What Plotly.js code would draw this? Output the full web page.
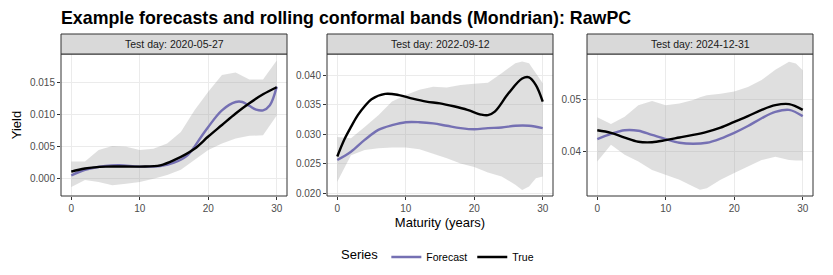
<!DOCTYPE html>
<html><head><meta charset="utf-8">
<script src="https://cdn.plot.ly/plotly-3.0.1.min.js"></script>
<style>html,body{margin:0;padding:0;background:#fff}#chart{width:833px;height:275px}</style>
</head><body><div id="chart"></div>
<script>
// Panel titles
const panelTitles = ["Test day: 2020-05-27", "Test day: 2022-09-12", "Test day: 2024-12-31"];

// Panel 1: 2020-05-27
const p1TrueX = [0, 2, 5, 10, 13, 15, 18, 20, 22, 24, 26, 28, 30];
const p1TrueY = [0.0011, 0.0016, 0.0019, 0.0019, 0.0021, 0.0029, 0.0047, 0.0066, 0.0084, 0.0102, 0.0118, 0.0132, 0.0143];
const p1FcX = [0, 2, 5, 7, 10, 13, 15, 17, 19, 20, 22, 24, 25, 26, 27, 28, 29, 30];
const p1FcY = [0.0005, 0.0014, 0.0020, 0.0021, 0.0019, 0.0020, 0.0025, 0.0037, 0.0066, 0.0081, 0.0107, 0.0120, 0.0120, 0.0114, 0.0108, 0.0107, 0.0115, 0.0144];
const p1BandX = [0, 2, 4, 6, 8, 10, 12, 14, 16, 18, 20, 22, 24, 26, 28, 30];
const p1Upper = [0.0027, 0.0027, 0.0045, 0.0051, 0.0050, 0.0045, 0.0047, 0.0055, 0.0073, 0.0107, 0.0136, 0.0162, 0.0166, 0.0155, 0.0155, 0.0185];
const p1Lower = [-0.0013, -0.0002, -0.0005, -0.0010, -0.0008, -0.0005, 0.0000, 0.0006, 0.0014, 0.0029, 0.0045, 0.0055, 0.0063, 0.0067, 0.0068, 0.0099];

// Panel 2: 2022-09-12
const p2TrueX = [0, 1, 2, 3, 4, 5, 7, 9, 11, 13, 15, 17, 19, 21, 22, 23, 25, 27, 28, 29, 30];
const p2TrueY = [0.0262, 0.0290, 0.0312, 0.0332, 0.0347, 0.0359, 0.0368, 0.0366, 0.0360, 0.0355, 0.0352, 0.0347, 0.0341, 0.0333, 0.0332, 0.0338, 0.0369, 0.0394, 0.0396, 0.0383, 0.0355];
const p2FcX = [0, 2, 4, 6, 8, 10, 12, 14, 16, 18, 20, 22, 24, 26, 28, 30];
const p2FcY = [0.0256, 0.0270, 0.0290, 0.0307, 0.0315, 0.0320, 0.0320, 0.0318, 0.0314, 0.0310, 0.0308, 0.0310, 0.0311, 0.0314, 0.0314, 0.0310];
const p2BandX = [0, 2, 4, 6, 8, 10, 12, 14, 16, 18, 20, 22, 24, 26, 27, 28, 29, 30];
const p2Upper = [0.0295, 0.0293, 0.0312, 0.0332, 0.0355, 0.0366, 0.0375, 0.0380, 0.0379, 0.0383, 0.0385, 0.0387, 0.0403, 0.0420, 0.0423, 0.0420, 0.0403, 0.0386];
const p2Lower = [0.0219, 0.0264, 0.0273, 0.0276, 0.0277, 0.0277, 0.0274, 0.0267, 0.0259, 0.0250, 0.0244, 0.0235, 0.0228, 0.0214, 0.0205, 0.0211, 0.0225, 0.0228];

// Panel 3: 2024-12-31
const p3TrueX = [0, 2, 4, 6, 8, 10, 12, 14, 16, 18, 20, 22, 24, 26, 28, 30];
const p3TrueY = [0.0441, 0.0436, 0.0427, 0.0419, 0.0418, 0.0422, 0.0427, 0.0432, 0.0438, 0.0446, 0.0457, 0.0468, 0.0480, 0.0489, 0.0491, 0.0480];
const p3FcX = [0, 2, 4, 6, 8, 10, 12, 14, 16, 18, 20, 22, 24, 26, 28, 30];
const p3FcY = [0.0424, 0.0434, 0.0441, 0.0440, 0.0432, 0.0424, 0.0417, 0.0415, 0.0417, 0.0425, 0.0436, 0.0449, 0.0464, 0.0476, 0.0480, 0.0468];
const p3BandX = [0, 2, 4, 6, 8, 10, 12, 14, 15, 16, 18, 20, 22, 24, 26, 28, 29, 30];
const p3Upper = [0.0466, 0.0453, 0.0467, 0.0489, 0.0497, 0.0489, 0.0492, 0.0499, 0.0504, 0.0508, 0.0511, 0.0515, 0.0524, 0.0537, 0.0557, 0.0572, 0.0569, 0.0556];
const p3Lower = [0.0381, 0.0413, 0.0394, 0.0381, 0.0365, 0.0355, 0.0346, 0.0333, 0.0327, 0.0330, 0.0346, 0.0359, 0.0371, 0.0384, 0.0390, 0.0384, 0.0383, 0.0383];

const panels = [
  {tx:p1TrueX, ty:p1TrueY, fx:p1FcX, fy:p1FcY, bx:p1BandX, up:p1Upper, lo:p1Lower, yr:[-0.0027, 0.0195], dt:0.005, fmt:'.3f'},
  {tx:p2TrueX, ty:p2TrueY, fx:p2FcX, fy:p2FcY, bx:p2BandX, up:p2Upper, lo:p2Lower, yr:[0.0195, 0.04356], dt:0.005, fmt:'.3f'},
  {tx:p3TrueX, ty:p3TrueY, fx:p3FcX, fy:p3FcY, bx:p3BandX, up:p3Upper, lo:p3Lower, yr:[0.0315, 0.0587], dt:0.01, fmt:'.2f'}
];

const W = 833, H = 275;
const xPix = [[61, 287], [327, 553], [587, 813]];
const yTop = 54, yBot = 196, stripTop = 34;
const FORECAST = '#7570b3', TRUE = '#000000', BAND = 'rgba(150,150,150,0.3)';
const font = 'Liberation Sans, Arial, sans-serif';

const traces = [];
const layout = {
  width: W, height: H, margin: {l:0, r:0, t:0, b:0},
  paper_bgcolor: '#fff', plot_bgcolor: '#fff',
  font: {family: font, color: '#4d4d4d'},
  showlegend: true,
  legend: {orientation: 'h', x: 0.527, xanchor: 'center', y: 1 - 257/H, yanchor: 'middle',
           title: {text: 'Series', font: {size: 13, color: '#000'}, side: 'left'},
           font: {size: 10.5, color: '#000'}, itemwidth: 30, tracegroupgap: 0},
  title: {text: '<b>Example forecasts and rolling conformal bands (Mondrian): RawPC</b>',
          x: 61/W, xanchor: 'left', y: 1 - 18/H, yanchor: 'middle', font: {size: 17.8, color: '#000', family: font}},
  shapes: [], annotations: []
};

panels.forEach((p, i) => {
  const n = i === 0 ? '' : String(i + 1);
  const xa = 'x' + n, ya = 'y' + n;
  traces.push({x: p.bx, y: p.lo, xaxis: xa, yaxis: ya, type: 'scatter', mode: 'lines', line: {width: 0, color: BAND}, showlegend: false, hoverinfo: 'skip'});
  traces.push({x: p.bx, y: p.up, xaxis: xa, yaxis: ya, type: 'scatter', mode: 'lines', line: {width: 0, color: BAND}, fill: 'tonexty', fillcolor: BAND, showlegend: false, hoverinfo: 'skip'});
  traces.push({x: p.fx, y: p.fy, xaxis: xa, yaxis: ya, type: 'scatter', mode: 'lines', name: 'Forecast', legendgroup: 'f', showlegend: i === 0, line: {color: FORECAST, width: 2.4, shape: 'spline', smoothing: 1}});
  traces.push({x: p.tx, y: p.ty, xaxis: xa, yaxis: ya, type: 'scatter', mode: 'lines', name: 'True', legendgroup: 't', showlegend: i === 0, line: {color: TRUE, width: 2.4, shape: 'spline', smoothing: 1}});
  const [l, r] = xPix[i];
  layout['xaxis' + n] = {domain: [l / W, r / W], range: [-1.5, 31.5], anchor: ya, tickvals: [0, 10, 20, 30],
    showgrid: true, gridcolor: '#ebebeb', gridwidth: 1, zeroline: false, ticks: 'outside', ticklen: 3, tickcolor: '#333', tickwidth: 1,
    tickfont: {size: 10, color: '#4d4d4d'}, showline: false, mirror: false};
  layout['yaxis' + n] = {domain: [1 - yBot / H, 1 - yTop / H], range: p.yr, anchor: xa, dtick: p.dt, tick0: 0, tickformat: p.fmt,
    showgrid: true, gridcolor: '#ebebeb', gridwidth: 1, zeroline: false, ticks: 'outside', ticklen: 3, tickcolor: '#333', tickwidth: 1,
    tickfont: {size: 10, color: '#4d4d4d'}, showline: false};
  layout.shapes.push({type: 'rect', xref: 'paper', yref: 'paper', x0: l / W, x1: r / W, y0: 1 - yBot / H, y1: 1 - yTop / H, line: {color: '#333', width: 1}, fillcolor: 'rgba(0,0,0,0)', layer: 'above'});
  layout.shapes.push({type: 'rect', xref: 'paper', yref: 'paper', x0: l / W, x1: r / W, y0: 1 - yTop / H, y1: 1 - stripTop / H, line: {color: '#333', width: 1}, fillcolor: '#d9d9d9', layer: 'above'});
  layout.annotations.push({text: panelTitles[i], xref: 'paper', yref: 'paper', x: (l + r) / 2 / W, y: 1 - (stripTop + yTop) / 2 / H, xanchor: 'center', yanchor: 'middle', showarrow: false, font: {size: 10.5, color: '#1a1a1a'}});
});
layout.xaxis2.title = {text: 'Maturity (years)', font: {size: 13, color: '#000'}, standoff: 4};
layout.yaxis.title = {text: 'Yield', font: {size: 13, color: '#000'}, standoff: 5};

Plotly.newPlot('chart', traces, layout, {staticPlot: true, displayModeBar: false});
</script></body></html>
